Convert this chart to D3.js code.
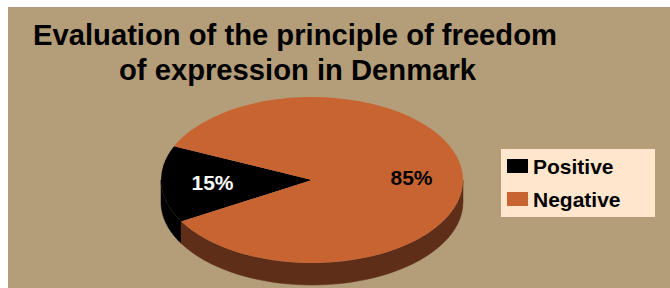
<!DOCTYPE html>
<html>
<head>
<meta charset="utf-8">
<script src="https://cdn.jsdelivr.net/npm/d3@7"></script>
<style>
  body { margin: 0; background: #fff; }
  svg { display: block; font-family: Arial, "Liberation Sans", sans-serif; }
</style>
</head>
<body>
<div id="chart"></div>
<script>
// chart data
const categories = ['Positive', 'Negative'];
const values = [15, 85];
const sliceColors = ['#000000', '#C86432'];
const sideColors = ['#000000', '#5E2E18'];
const titleLines = ['Evaluation of the principle of freedom', 'of expression in Denmark'];

const width = 670, height = 288;
const cx = 312, cy = 180, rx = 151, ry = 83, depth = 22;

const svg = d3.select('#chart').append('svg')
  .attr('width', width)
  .attr('height', height);

// background panel
svg.append('rect')
  .attr('x', 8).attr('y', 7)
  .attr('width', width - 8).attr('height', height - 7)
  .attr('fill', '#B39E79');

// title
const titleX = [33, 119];
const titleW = [524, 357];
const titleY = [45, 80];
svg.append('g').selectAll('text')
  .data(titleLines)
  .enter().append('text')
  .attr('x', (d, i) => titleX[i])
  .attr('y', (d, i) => titleY[i])
  .attr('textLength', (d, i) => titleW[i])
  .attr('lengthAdjust', 'spacingAndGlyphs')
  .attr('font-size', 29)
  .attr('font-weight', 'bold')
  .attr('fill', '#000')
  .text(d => d);

// pie layout, first slice starts on the lower left
const start = 240 * Math.PI / 180;
const pie = d3.pie().sort(null).startAngle(start).endAngle(start + 2 * Math.PI);
const arcs = pie(values);

// point on the ellipse for a d3 angle (0 = 12 o'clock, clockwise)
const pt = (a, dy) => [cx + rx * Math.sin(a), cy - ry * Math.cos(a) + dy];

// side walls (only the front half is visible)
const sides = svg.append('g').attr('class', 'sides');
arcs.forEach((d, i) => {
  for (let k = -1; k <= 2; k++) {
    const lo = Math.max(d.startAngle, Math.PI / 2 + 2 * Math.PI * k);
    const hi = Math.min(d.endAngle, 3 * Math.PI / 2 + 2 * Math.PI * k);
    if (hi <= lo) continue;
    const n = 40;
    const top = d3.range(n + 1).map(j => pt(lo + (hi - lo) * j / n, 0));
    const bottom = d3.range(n + 1).map(j => pt(hi - (hi - lo) * j / n, depth));
    sides.append('path')
      .attr('d', d3.line()(top.concat(bottom)) + 'Z')
      .attr('fill', sideColors[i])
      .attr('stroke', sideColors[i])
      .attr('stroke-width', 0.5);
  }
});

// top surface
const arc = d3.arc().innerRadius(0).outerRadius(rx);
svg.append('g')
  .attr('transform', `translate(${cx},${cy}) scale(1,${ry / rx})`)
  .selectAll('path')
  .data(arcs)
  .enter().append('path')
  .attr('d', arc)
  .attr('fill', (d, i) => sliceColors[i]);

// percentage labels
const labelArc = d3.arc().innerRadius(rx * 0.66).outerRadius(rx * 0.66);
svg.append('g').selectAll('text')
  .data(arcs)
  .enter().append('text')
  .attr('x', d => cx + labelArc.centroid(d)[0])
  .attr('y', d => cy + labelArc.centroid(d)[1] * ry / rx + 7.5)
  .attr('text-anchor', 'middle')
  .attr('font-size', 21)
  .attr('font-weight', 'bold')
  .attr('fill', (d, i) => i === 0 ? '#fff' : '#000')
  .text(d => d.data + '%');

// legend
const legend = svg.append('g').attr('transform', 'translate(501,149)');
legend.append('rect')
  .attr('width', 154).attr('height', 68)
  .attr('fill', '#FFE6CC');
const item = legend.selectAll('g.item')
  .data(categories)
  .enter().append('g')
  .attr('class', 'item')
  .attr('transform', (d, i) => `translate(0,${10 + i * 33})`);
item.append('rect')
  .attr('x', 6).attr('width', 21).attr('height', 14)
  .attr('fill', (d, i) => sliceColors[i]);
item.append('text')
  .attr('x', 32).attr('y', 15)
  .attr('font-size', 21)
  .attr('font-weight', 'bold')
  .attr('fill', '#000')
  .text(d => d);
</script>
</body>
</html>
